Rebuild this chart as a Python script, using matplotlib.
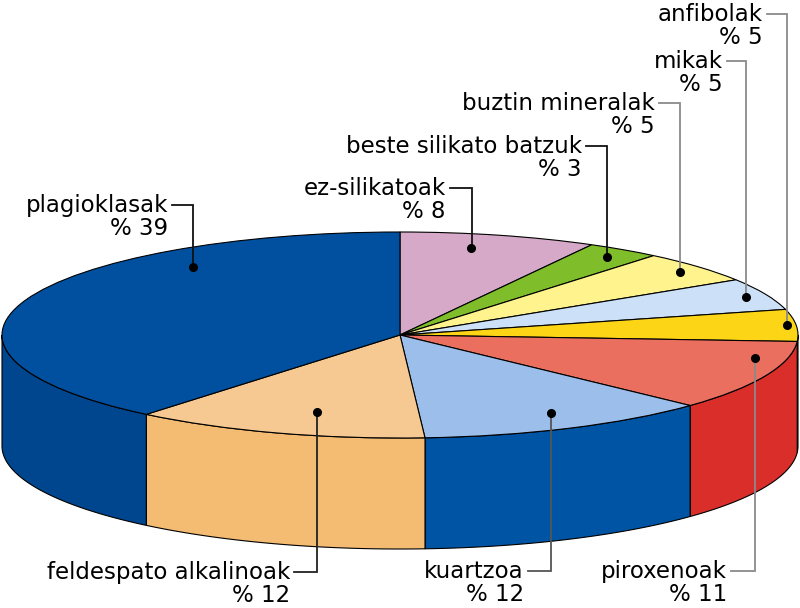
import numpy as np
import matplotlib
matplotlib.use("Agg")
import matplotlib.pyplot as plt
from matplotlib.patches import Polygon

# ---- data ----
labels = ['ez-silikatoak', 'beste silikato batzuk', 'buztin mineralak', 'mikak',
          'anfibolak', 'piroxenoak', 'kuartzoa', 'feldespato alkalinoak', 'plagioklasak']
values = [8, 3, 5, 5, 5, 11, 12, 12, 39]
pct_text = ['% 8', '% 3', '% 5', '% 5', '% 5', '% 11', '% 12', '% 12', '% 39']

top_colors = ['#D6A9C9', '#7FBD2B', '#FFF38D', '#CCE1F7', '#FDD517',
              '#EB6F5F', '#9CBEEA', '#F6C992', '#00509F']
side_colors = ['#C493B6', '#6AA520', '#EEDD70', '#B5CDEB', '#F2C200',
               '#DA2E2A', '#0054A4', '#F4BB72', '#00468F']

# ---- layout (pixels) ----
W, H = 800, 608
CX, CY, RX, RY, DEPTH = 400, 335, 398, 103, 111
# label: (text right x, baseline y, leader end x, dot x, dot y, line colour)
label_layout = [
    (446, 195, 472, 471, 248, '#111111'),
    (582, 153, 607, 607, 257, '#111111'),
    (655, 110, 680, 680, 272, '#8a8a8a'),
    (723, 68, 746, 746, 297, '#8a8a8a'),
    (763, 21, 787, 787, 325, '#8a8a8a'),
    (727, 578, 755, 755, 358, '#8a8a8a'),
    (524, 578, 551, 551, 413, '#555555'),
    (290, 579, 317, 317, 412, '#222222'),
    (168, 212, 193, 193, 267, '#111111'),
]
LINE_GAP = 23

fig = plt.figure(figsize=(W / 100, H / 100), dpi=100)
ax = fig.add_axes([0, 0, 1, 1])

# top face via pie (unit circle in data space, stretched to ellipse by limits)
wedges, _ = ax.pie(values, colors=top_colors, startangle=90, counterclock=False,
                   radius=1, center=(0, 0),
                   wedgeprops=dict(edgecolor='black', linewidth=0.8, zorder=3))
ax.set_aspect('auto')
ax.set_xlim(-CX / RX, (W - CX) / RX)
ax.set_ylim((CY - H) / RY, CY / RY)
ax.axis('off')

d = DEPTH / RY
total = float(sum(values))
cum = 0.0
for v, sc in zip(values, side_colors):
    th2 = 90 - cum / total * 360
    th1 = 90 - (cum + v) / total * 360
    cum += v
    a0, a1 = max(th1, -180), min(th2, 0)
    if a1 <= a0:
        continue
    t = np.radians(np.linspace(a0, a1, 200))
    xs = np.cos(t)
    ys = np.sin(t)
    pts = np.concatenate([np.column_stack([xs, ys]),
                          np.column_stack([xs[::-1], ys[::-1] - d])])
    ax.add_patch(Polygon(pts, closed=True, facecolor=sc, edgecolor='black',
                         linewidth=0.8, zorder=2))

# label overlay in pixel coordinates
ax2 = fig.add_axes([0, 0, 1, 1], facecolor='none')
ax2.set_xlim(0, W)
ax2.set_ylim(H, 0)
ax2.axis('off')

fs = 16.5
for lab, pt, (rx, bl, lx, dx, dy, lc) in zip(labels, pct_text, label_layout):
    ax2.text(rx, bl, lab, ha='right', va='baseline', fontsize=fs,
             family='DejaVu Sans', color='black')
    ax2.text(rx, bl + LINE_GAP, pt, ha='right', va='baseline', fontsize=fs,
             family='DejaVu Sans', color='black')
    ly = bl - 7
    ax2.plot([rx + 4, lx, lx], [ly, ly, dy], color=lc, lw=1.3,
             solid_joinstyle='miter', zorder=5)
    ax2.plot([dx], [dy], 'o', color='black', markersize=5.5, zorder=6)

fig.savefig('out.png', dpi=100)
